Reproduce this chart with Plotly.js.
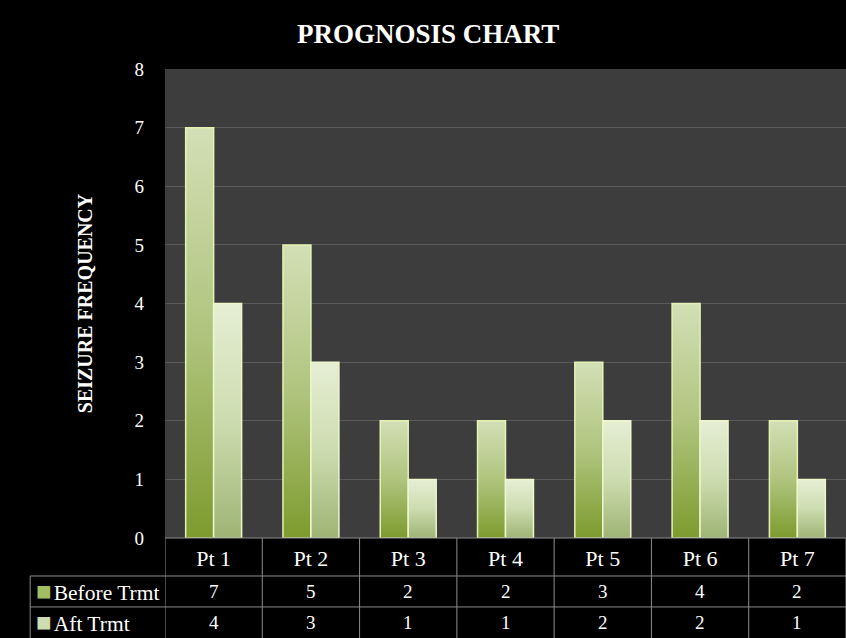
<!DOCTYPE html>
<html>
<head>
<meta charset="utf-8">
<script src="https://cdn.plot.ly/plotly-3.0.1.min.js"></script>
<style>
html,body{margin:0;padding:0;background:#000;}
#chart{width:846px;height:638px;}
</style>
</head>
<body>
<div id="chart"></div>
<script>
// ---- data ----
const categories = ["Pt 1", "Pt 2", "Pt 3", "Pt 4", "Pt 5", "Pt 6", "Pt 7"];
const beforeTrmt = [7, 5, 2, 2, 3, 4, 2];
const aftTrmt = [4, 3, 1, 1, 2, 2, 1];
const seriesNames = ["Before Trmt", "Aft Trmt"];
const yTicks = [0, 1, 2, 3, 4, 5, 6, 7, 8];

const FONT = "Liberation Serif, Times New Roman, serif";
const lineCol = "#8c8c8c";

const traces = [
  {type: "bar", name: seriesNames[0], x: categories, y: beforeTrmt,
   marker: {color: "#a9c070", line: {color: "#e4f2b4", width: 1.5}}, hoverinfo: "skip"},
  {type: "bar", name: seriesNames[1], x: categories, y: aftTrmt,
   marker: {color: "#c6d6a6", line: {color: "#eef6cc", width: 1.5}}, hoverinfo: "skip"}
];

// table geometry (paper coords relative to plot area)
const yHeadBot = -0.081, yRow1Bot = -0.147, yBottom = -0.215, xLeft = -0.198;
const shapes = [];
shapes.push({type: "line", xref: "paper", yref: "paper", x0: 0, x1: 1, y0: 0, y1: 0, line: {color: lineCol, width: 1}});
shapes.push({type: "line", xref: "paper", yref: "paper", x0: xLeft, x1: 1, y0: yHeadBot, y1: yHeadBot, line: {color: lineCol, width: 1}});
shapes.push({type: "line", xref: "paper", yref: "paper", x0: xLeft, x1: 1, y0: yRow1Bot, y1: yRow1Bot, line: {color: lineCol, width: 1}});
shapes.push({type: "line", xref: "paper", yref: "paper", x0: xLeft, x1: xLeft, y0: yHeadBot, y1: yBottom, line: {color: lineCol, width: 1}});
for (let i = 0; i <= categories.length; i++) {
  shapes.push({type: "line", xref: "x", yref: "paper", x0: i - 0.5, x1: i - 0.5, y0: 0, y1: yBottom, line: {color: lineCol, width: 1}});
}

const annotations = [];
const rowY = [(yHeadBot + yRow1Bot) / 2, (yRow1Bot + yBottom) / 2];
const rowData = [beforeTrmt, aftTrmt];
const keyCols = ["#a3bd62", "#cfdcb2"];
rowData.forEach((vals, r) => {
  vals.forEach((v, i) => {
    annotations.push({xref: "x", yref: "paper", x: categories[i], y: rowY[r], text: String(v),
      showarrow: false, xanchor: "center", yanchor: "middle", font: {family: FONT, size: 19, color: "#ffffff"}});
  });
  annotations.push({xref: "paper", yref: "paper", x: -0.193, y: rowY[r],
    text: '<span style="color:' + keyCols[r] + ';font-size:26px">■</span><span style="font-size:8px"> </span>' + seriesNames[r],
    showarrow: false, xanchor: "left", yanchor: "middle", font: {family: FONT, size: 21.5, color: "#ffffff"}});
});

const layout = {
  width: 846, height: 638,
  paper_bgcolor: "#000000", plot_bgcolor: "#3d3d3d",
  margin: {l: 165, r: 0, t: 69, b: 100, pad: 0},
  showlegend: false,
  barmode: "group", bargap: 0.425, bargroupgap: 0,
  title: {text: "<b>PROGNOSIS CHART</b>", x: 0.506, xanchor: "center", y: 0.948, yanchor: "middle",
    font: {family: FONT, size: 27, color: "#ffffff"}},
  xaxis: {type: "category", range: [-0.5, 6.5], showgrid: false, zeroline: false, showline: false,
    ticks: "", ticklabelstandoff: 5, tickfont: {family: FONT, size: 22, color: "#ffffff"}, fixedrange: true},
  yaxis: {range: [0, 8], tickvals: yTicks, ticktext: yTicks.map(String), showgrid: true, gridcolor: "#5a5a5a", gridwidth: 1,
    zeroline: false, showline: false, ticks: "", ticklabelstandoff: 20,
    tickfont: {family: FONT, size: 19, color: "#ffffff"},
    title: {text: "<b>SEIZURE FREQUENCY</b>", standoff: 36, font: {family: FONT, size: 20, color: "#ffffff"}}, fixedrange: true},
  shapes: shapes,
  annotations: annotations
};

Plotly.newPlot("chart", traces, layout, {staticPlot: true, displayModeBar: false}).then(function (gd) {
  const svg = gd.querySelector("svg.main-svg");
  const ns = "http://www.w3.org/2000/svg";
  let defs = svg.querySelector("defs");
  if (!defs) { defs = document.createElementNS(ns, "defs"); svg.insertBefore(defs, svg.firstChild); }
  function grad(id, stops) {
    const g = document.createElementNS(ns, "linearGradient");
    g.setAttribute("id", id); g.setAttribute("x1", "0"); g.setAttribute("y1", "0"); g.setAttribute("x2", "0"); g.setAttribute("y2", "1");
    stops.forEach(s => {
      const st = document.createElementNS(ns, "stop");
      st.setAttribute("offset", s[0]); st.setAttribute("stop-color", s[1]);
      g.appendChild(st);
    });
    defs.appendChild(g);
  }
  grad("gBefore", [["0", "#d3dfb6"], ["0.5", "#b0c47e"], ["1", "#7d9b2e"]]);
  grad("gAft", [["0", "#e6eed4"], ["0.5", "#cddcb0"], ["1", "#9eb474"]]);
  const bars = gd.querySelectorAll(".barlayer .trace");
  const ids = ["gBefore", "gAft"];
  bars.forEach((t, k) => {
    t.querySelectorAll("path").forEach(p => { p.style.fill = "url(#" + ids[k] + ")"; });
  });
});
</script>
</body>
</html>
